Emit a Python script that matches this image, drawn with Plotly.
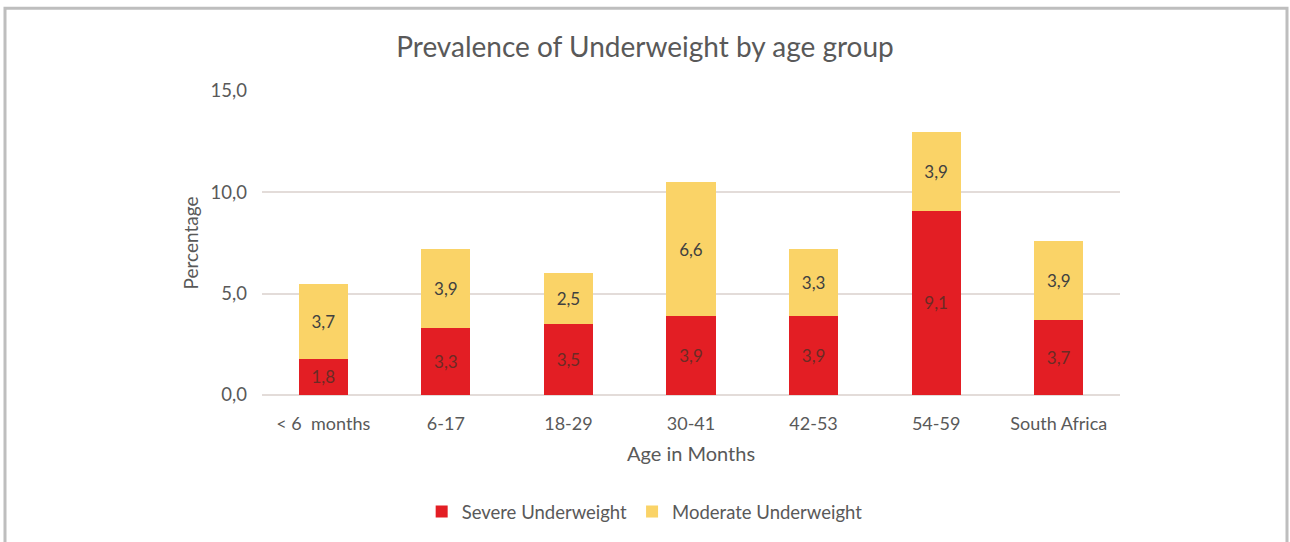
import plotly.graph_objects as go

categories = ["< 6  months", "6-17", "18-29", "30-41", "42-53", "54-59", "South Africa"]
severe = [1.8, 3.3, 3.5, 3.9, 3.9, 9.1, 3.7]
moderate = [3.7, 3.9, 2.5, 6.6, 3.3, 3.9, 3.9]
y_ticks = [0, 5, 10, 15]

FONT = "Lato, 'Open Sans', sans-serif"
GRAY = "#595959"

fig = go.Figure()
fig.add_trace(go.Bar(
    x=categories, y=severe, name="Severe Underweight",
    marker=dict(color="#E31E24", line=dict(width=0)),
    texttemplate="%{y:.1f}", textposition="inside", insidetextanchor="middle",
    textfont=dict(color="#6B2B25", size=17, family=FONT), textangle=0,
))
fig.add_trace(go.Bar(
    x=categories, y=moderate, name="Moderate Underweight",
    marker=dict(color="#FAD367", line=dict(width=0)),
    texttemplate="%{y:.1f}", textposition="inside", insidetextanchor="middle",
    textfont=dict(color="#404040", size=17, family=FONT), textangle=0,
))

fig.update_layout(
    barmode="stack",
    bargap=0.6,
    separators=", ",
    width=1290, height=542,
    margin=dict(l=262, r=170, t=91, b=146),
    paper_bgcolor="white", plot_bgcolor="white",
    font=dict(family=FONT, color=GRAY),
    title=dict(text="Prevalence of Underweight by age group",
               x=645 / 1290, xanchor="center", y=1 - 47 / 542, yanchor="middle",
               font=dict(size=28, color=GRAY, family=FONT)),
    xaxis=dict(
        title=dict(text="Age in Months", font=dict(size=20, color=GRAY), standoff=13),
        tickfont=dict(size=18, color=GRAY), showgrid=False, showline=False,
        ticks="", zeroline=False, ticklabelstandoff=16,
    ),
    yaxis=dict(
        title=dict(text="Percentage", font=dict(size=19, color=GRAY), standoff=6),
        range=[0, 15], tickvals=y_ticks, tickformat=".1f",
        tickfont=dict(size=18.5, color=GRAY),
        showgrid=True, gridcolor="#E3DCD9", gridwidth=1.5,
        zeroline=True, zerolinecolor="#E3DCD9", zerolinewidth=1.5,
        showline=False, ticks="", ticklabelstandoff=14,
    ),
    legend=dict(orientation="h", x=0.446, xanchor="center",
                y=(396 - 512) / 305, yanchor="middle",
                font=dict(size=18.5, color=GRAY), traceorder="normal",
                itemwidth=30),
    showlegend=True,
    shapes=[dict(type="rect", xref="paper", yref="paper",
                 x0=(5 - 262) / 858, x1=(1287 - 262) / 858,
                 y0=(396 - 560) / 305, y1=(396 - 8) / 305,
                 line=dict(color="#BEBEBE", width=3), fillcolor="rgba(0,0,0,0)",
                 layer="below")],
)

fig.write_html("out.html", config={"displayModeBar": False},
               post_script="document.body.style.margin='0';")
